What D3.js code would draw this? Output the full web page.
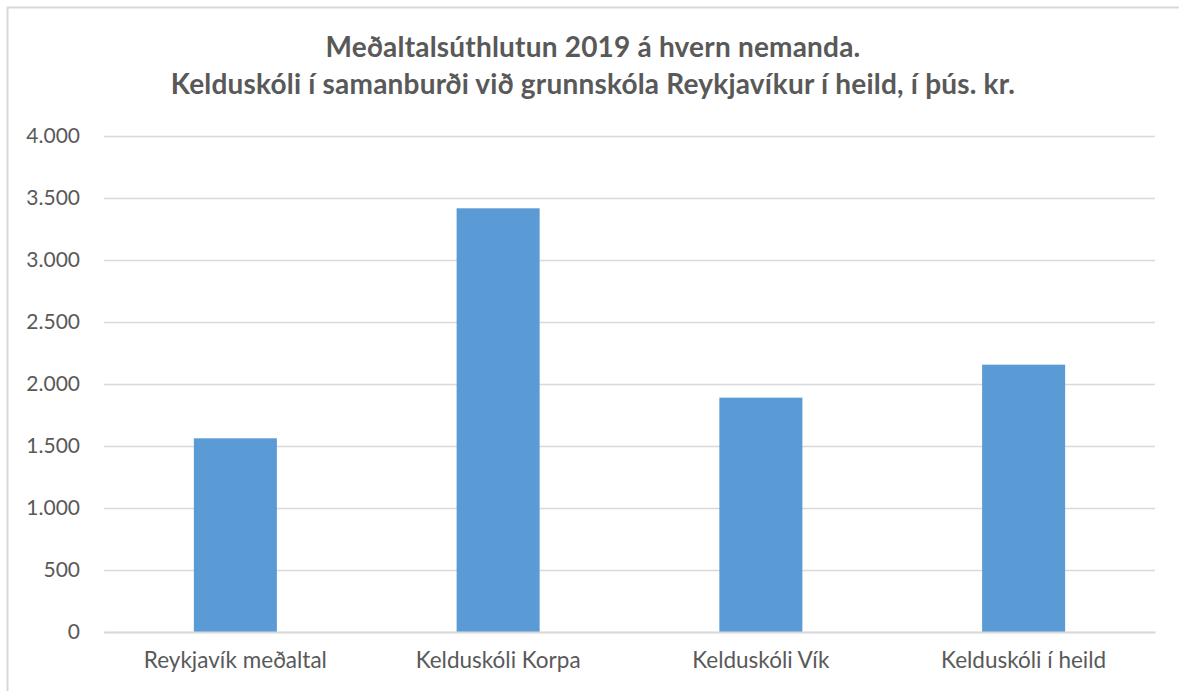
<!DOCTYPE html>
<html>
<head>
<meta charset="utf-8">
<script src="https://cdn.jsdelivr.net/npm/d3@7"></script>
<style>
  body { margin: 0; background: #fff; }
  text { font-family: Lato, "Open Sans", sans-serif; fill: #595959; }
</style>
</head>
<body>
<svg width="1179" height="691"></svg>
<script>
const categories = ['Reykjavík meðaltal', 'Kelduskóli Korpa', 'Kelduskóli Vík', 'Kelduskóli í heild'];
const values = [1562, 3417, 1890, 2156];
const yTicks = [0, 500, 1000, 1500, 2000, 2500, 3000, 3500, 4000];
const titleLines = ['Meðaltalsúthlutun 2019 á hvern nemanda.', 'Kelduskóli í samanburði við grunnskóla Reykjavíkur í heild, í þús. kr.'];

const svg = d3.select('svg');

// chart frame
svg.append('rect')
    .attr('x', 7.5).attr('y', 7.5)
    .attr('width', 1200).attr('height', 700)
    .attr('fill', 'none')
    .attr('stroke', '#d9d9d9')
    .attr('stroke-width', 2);

const margin = { top: 136, left: 104, right: 24, bottom: 59 };
const innerWidth = 1179 - margin.left - margin.right;
const innerHeight = 691 - margin.top - margin.bottom;

const g = svg.append('g')
    .attr('transform', `translate(${margin.left}, ${margin.top})`);

const xScale = d3.scaleBand()
    .domain(categories)
    .range([0, innerWidth])
    .paddingInner(0.684)
    .paddingOuter(0.342);

const yScale = d3.scaleLinear()
    .domain([0, 4000])
    .range([innerHeight, 0]);

const fmt = n => d3.format(',')(n).replace(/,/g, '.');

const yAxis = d3.axisLeft(yScale)
    .tickValues(yTicks)
    .tickSize(-innerWidth)
    .tickPadding(24)
    .tickFormat(fmt);
const yAxisG = g.append('g').call(yAxis);
yAxisG.select('.domain').remove();
yAxisG.selectAll('line').attr('stroke', '#d9d9d9').attr('stroke-width', 1.5);
yAxisG.selectAll('text')
    .style('font-size', '21px')
    .style('font-family', 'Lato, sans-serif')
    .attr('fill', '#595959');

g.selectAll('.bar')
    .data(values)
    .enter().append('rect')
    .attr('class', 'bar')
    .attr('x', (d, i) => xScale(categories[i]))
    .attr('y', d => yScale(d))
    .attr('width', xScale.bandwidth())
    .attr('height', d => innerHeight - yScale(d))
    .attr('fill', '#5b9bd5');

const xAxis = d3.axisBottom(xScale).tickSize(0).tickPadding(20);
const xAxisG = g.append('g')
    .attr('transform', `translate(0, ${innerHeight})`)
    .call(xAxis);
xAxisG.select('.domain').attr('stroke', '#d9d9d9').attr('stroke-width', 2);
xAxisG.selectAll('text')
    .style('font-size', '22.5px')
    .style('font-family', 'Lato, sans-serif')
    .attr('fill', '#595959');

svg.selectAll('.title')
    .data(titleLines)
    .enter().append('text')
    .attr('class', 'title')
    .attr('x', 593)
    .attr('y', (d, i) => 57 + i * 37)
    .attr('text-anchor', 'middle')
    .style('font-size', '28px')
    .style('letter-spacing', '0.2px')
    .style('font-weight', 'bold')
    .text(d => d);
</script>
</body>
</html>
